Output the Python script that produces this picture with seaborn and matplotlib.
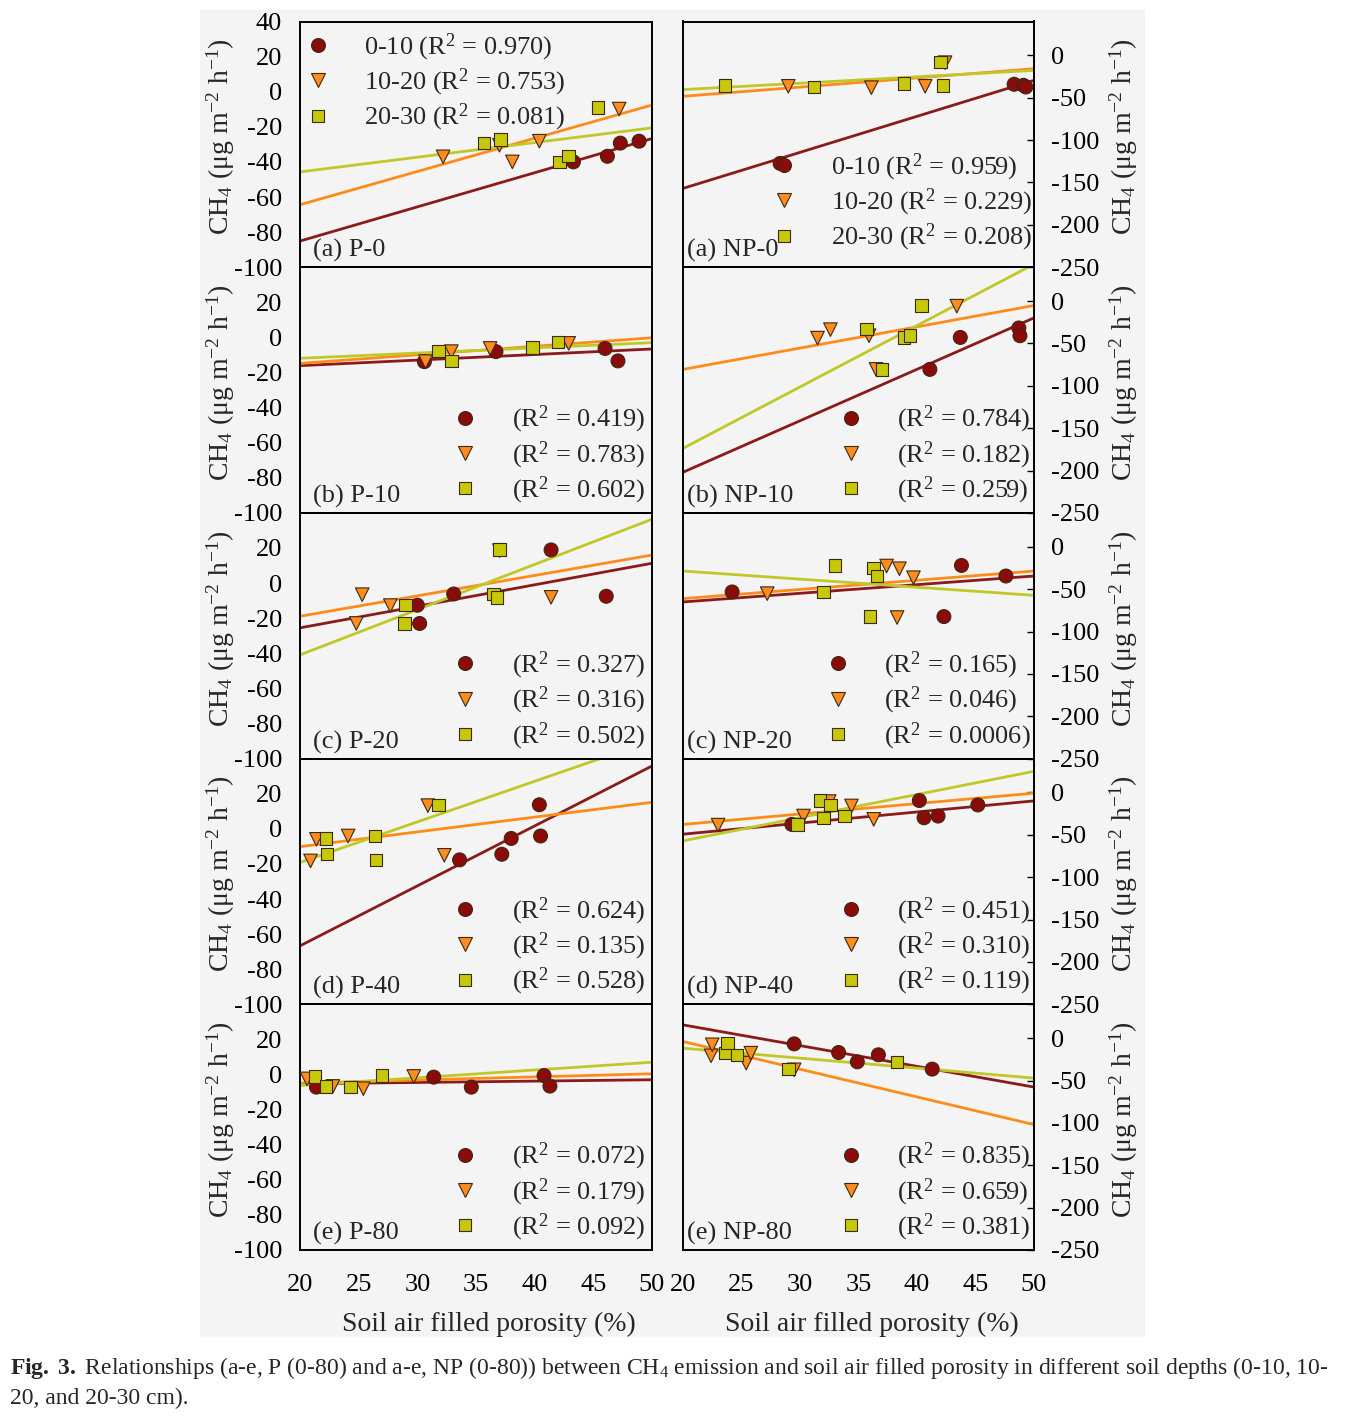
import pandas as pd
import matplotlib
matplotlib.use('Agg')
import matplotlib.pyplot as plt
from matplotlib.lines import Line2D
from matplotlib.patches import Rectangle
import seaborn as sns

# Depth classes and fitted-line x range
depths = ['0-10', '10-20', '20-30']
fit_x = [20, 50]

# ---- P panels (left column) ----
P0_X = [[43.3, 46.2, 47.3, 48.9], [32.2, 37.0, 38.1, 40.4, 47.2], [35.7, 37.1, 42.1, 42.9, 45.4]]
P0_Y = [[-40.0, -36.8, -29.3, -28.2], [-37.1, -30.5, -40.0, -28.2, -9.9], [-29.1, -27.2, -40.0, -36.6, -9.0]]
P0_FIT = [(-85.1, -26.7), (-64.4, -7.6), (-45.7, -20.6)]
P0_R2 = ['0.970', '0.753', '0.081']

P10_X = [[30.6, 36.7, 46.0, 47.1], [30.7, 32.9, 36.2, 42.9], [31.8, 32.9, 39.8, 42.0]]
P10_Y = [[-13.8, -8.1, -6.3, -13.4], [-13.8, -8.1, -6.3, -3.4], [-7.8, -13.4, -5.7, -2.7]]
P10_FIT = [(-16.1, -6.6), (-14.8, -0.2), (-11.9, -3.0)]
P10_R2 = ['0.419', '0.783', '0.602']

P20_X = [[30.0, 30.2, 33.1, 41.4, 46.1], [24.8, 25.3, 27.7, 37.0, 41.4], [28.9, 29.0, 36.5, 36.8, 37.0]]
P20_Y = [[-12.6, -23.0, -6.2, 18.9, -7.5], [-23.0, -6.6, -12.8, 18.5, -8.1], [-23.0, -12.6, -6.2, -8.1, 19.2]]
P20_FIT = [(-25.5, 11.3), (-18.9, 16.0), (-40.9, 36.4)]
P20_R2 = ['0.327', '0.316', '0.502']

P40_X = [[33.6, 37.2, 38.0, 40.4, 40.5], [20.9, 21.4, 24.1, 30.9, 32.3], [22.2, 22.3, 26.4, 26.5, 31.8]]
P40_Y = [[-17.7, -14.5, -5.5, 13.7, -4.1], [-18.3, -6.0, -4.1, 13.2, -15.1], [-5.5, -14.5, -4.1, -17.7, 13.7]]
P40_FIT = [(-66.7, 35.8), (-10.2, 15.1), (-19.2, 50.2)]
P40_R2 = ['0.624', '0.135', '0.528']

P80_X = [[21.4, 31.4, 34.6, 40.8, 41.3], [20.6, 22.8, 25.4, 29.7], [21.3, 22.2, 24.3, 27.0]]
P80_Y = [[-7.2, -1.5, -7.2, -0.6, -6.6], [-2.5, -6.8, -8.1, -1.1], [-1.1, -6.8, -7.2, -0.6]]
P80_FIT = [(-5.3, -3.0), (-4.9, 0.4), (-6.3, 7.0)]
P80_R2 = ['0.072', '0.179', '0.092']

# ---- NP panels (right column) ----
NP0_X = [[28.3, 48.3, 49.1, 49.3], [29.0, 36.1, 40.7, 42.4], [23.6, 31.2, 38.9, 42.0, 42.2]]
NP0_Y = [[-127.5, -34.1, -35.3, -37.3], [-36.5, -38.1, -36.5, -8.6], [-35.3, -37.3, -33.4, -7.8, -35.3]]
NP0_FIT = [(-157.0, -29.4), (-48.3, -15.7), (-40.4, -17.7)]
NP0_R2 = ['0.959', '0.229', '0.208']

NP10_X = [[41.1, 43.7, 48.7, 48.8], [31.5, 32.6, 35.9, 36.5, 43.4], [35.7, 37.0, 38.9, 39.4, 40.4]]
NP10_Y = [[-80.6, -42.9, -31.7, -40.9], [-43.7, -33.7, -40.9, -80.6, -6.0], [-32.9, -80.6, -42.9, -40.5, -5.2]]
NP10_FIT = [(-202.0, -19.8), (-80.6, -5.2), (-173.8, 43.6)]
NP10_R2 = ['0.784', '0.182', '0.259']

NP20_X = [[24.2, 42.3, 43.8, 47.6], [27.2, 37.4, 38.3, 38.5, 39.7], [32.0, 33.0, 36.0, 36.3, 36.6]]
NP20_Y = [[-53.3, -82.4, -22.0, -34.5], [-55.3, -22.7, -83.5, -25.9, -36.5], [-53.3, -22.0, -82.4, -24.7, -34.5]]
NP20_FIT = [(-65.1, -34.5), (-61.2, -28.6), (-28.6, -57.3)]
NP20_R2 = ['0.165', '0.046', '0.0006']

NP40_X = [[29.3, 40.2, 40.6, 41.8, 45.2], [23.0, 30.3, 32.5, 34.4, 36.3], [29.8, 31.7, 32.0, 32.6, 33.8]]
NP40_Y = [[-37.7, -9.5, -29.8, -27.8, -14.7], [-38.5, -27.8, -10.7, -15.9, -31.7], [-37.7, -9.5, -29.8, -14.7, -27.8]]
NP40_FIT = [(-49.2, -9.9), (-37.7, -0.8), (-57.1, 25.0)]
NP40_R2 = ['0.451', '0.310', '0.119']

NP80_X = [[29.5, 33.3, 34.9, 36.7, 41.3], [22.4, 22.5, 25.4, 25.8, 29.5], [23.6, 23.8, 24.6, 29.0, 38.3]]
NP80_Y = [[-6.7, -16.9, -27.9, -19.6, -36.5], [-20.8, -7.8, -29.4, -17.7, -37.3], [-17.7, -5.9, -19.6, -36.5, -28.3]]
NP80_FIT = [(15.7, -57.7), (-3.9, -102.0), (-11.8, -47.1)]
NP80_R2 = ['0.835', '0.659', '0.381']

panel_names_p = ['(a) P-0', '(b) P-10', '(c) P-20', '(d) P-40', '(e) P-80']
panel_names_np = ['(a) NP-0', '(b) NP-10', '(c) NP-20', '(d) NP-40', '(e) NP-80']

# Styling
sns.set_theme(style='white')
plt.rcParams['font.family'] = ['Liberation Serif', 'DejaVu Serif']
plt.rcParams['mathtext.fontset'] = 'custom'
plt.rcParams['mathtext.rm'] = 'Liberation Serif'
plt.rcParams['mathtext.it'] = 'Liberation Serif:italic'
plt.rcParams['mathtext.bf'] = 'Liberation Serif:bold'
plt.rcParams['axes.unicode_minus'] = False

fill_colors = {'0-10': '#8b0a0a', '10-20': '#ff8c1e', '20-30': '#c8c80a'}
line_colors = {'0-10': '#8b1a1a', '10-20': '#ff8c1a', '20-30': '#c0c828'}
marker_map = {'0-10': 'o', '10-20': 'v', '20-30': 's'}
size_map = {'0-10': 100, '10-20': 95, '20-30': 80}
edge_col = '#3a2a10'
FS = 19


def make_frames(xs, ys, fits):
    pts = pd.concat([pd.DataFrame({'x': xs[i], 'y': ys[i], 'depth': d}) for i, d in enumerate(depths)],
                    ignore_index=True)
    lines = pd.concat([pd.DataFrame({'x': fit_x, 'y': list(fits[i]), 'depth': d}) for i, d in enumerate(depths)],
                      ignore_index=True)
    return pts, lines


def draw_panel(ax, xs, ys, fits):
    pts, lines = make_frames(xs, ys, fits)
    sns.lineplot(data=lines, x='x', y='y', hue='depth', palette=line_colors, legend=False,
                 ax=ax, linewidth=2, zorder=2)
    sns.scatterplot(data=pts, x='x', y='y', hue='depth', style='depth', size='depth',
                    palette=fill_colors, markers=marker_map, sizes=size_map,
                    edgecolor=edge_col, linewidth=0.8, legend=False, ax=ax, zorder=3)


def add_legend(ax, labels, loc, anchor):
    handles = [Line2D([], [], linestyle='none', marker=marker_map[d], markersize=10 if d != '20-30' else 9,
                      markerfacecolor=fill_colors[d], markeredgecolor=edge_col, markeredgewidth=0.8)
               for d in depths]
    ax.legend(handles, labels, loc=loc, bbox_to_anchor=anchor, frameon=False, fontsize=FS,
              handlelength=1.0, handletextpad=1.25, labelspacing=0.15, borderpad=0, borderaxespad=0)


fig = plt.figure(figsize=(13.49, 14.17), dpi=100)
fig.patches.append(Rectangle((200 / 1349, 1 - 1337 / 1417), 945 / 1349, 1327 / 1417,
                             transform=fig.transFigure, facecolor='#f4f4f4', edgecolor='none', zorder=-10))

W, H = 1349, 1417
top0, ph = 21.5, 245.7
left_data = [(P0_X, P0_Y, P0_FIT, P0_R2), (P10_X, P10_Y, P10_FIT, P10_R2), (P20_X, P20_Y, P20_FIT, P20_R2),
             (P40_X, P40_Y, P40_FIT, P40_R2), (P80_X, P80_Y, P80_FIT, P80_R2)]
right_data = [(NP0_X, NP0_Y, NP0_FIT, NP0_R2), (NP10_X, NP10_Y, NP10_FIT, NP10_R2),
              (NP20_X, NP20_Y, NP20_FIT, NP20_R2), (NP40_X, NP40_Y, NP40_FIT, NP40_R2),
              (NP80_X, NP80_Y, NP80_FIT, NP80_R2)]

ylab = r'CH$_4$ (μg m$^{-2}$ h$^{-1}$)'
xlab = 'Soil air filled porosity (%)'

for i in range(5):
    bottom = 1 - (top0 + (i + 1) * ph) / H
    axl = fig.add_axes([300 / W, bottom, 352 / W, ph / H])
    axr = fig.add_axes([683 / W, bottom, 351 / W, ph / H])

    for ax, data, name, col in [(axl, left_data[i], panel_names_p[i], 'l'), (axr, right_data[i], panel_names_np[i], 'r')]:
        xs, ys, fits, r2 = data
        ax.set_facecolor('none')
        draw_panel(ax, xs, ys, fits)
        ax.set_xlim(20, 50)
        for sp in ax.spines.values():
            sp.set_color('black')
            sp.set_linewidth(1.4)
        ax.set_xlabel('')
        ax.set_ylabel('')
        if i == 4:
            ax.set_xticks(range(20, 51, 5))
            ax.tick_params(axis='x', direction='in', length=5, width=1, labelsize=FS, pad=17, colors='black')
            ax.set_xlabel(xlab, fontsize=20)
            ax.xaxis.set_label_coords(0.537, -0.25)
        else:
            ax.set_xticks([])

        if col == 'l':
            ax.set_ylim(-100, 40)
            ax.set_yticks(range(-100, 41, 20) if i == 0 else range(-100, 21, 20))
            ax.tick_params(axis='y', direction='in', length=5, width=1, labelsize=FS, pad=13, colors='black')
            ax.set_ylabel(ylab, fontsize=20)
            ax.yaxis.set_label_coords(-0.179, 0.53)
            ax.text(0.037, 0.02, name, transform=ax.transAxes, fontsize=FS, ha='left', va='bottom')
        else:
            ax.set_ylim(-250, 40)
            ax.set_yticks(range(-250, 1, 50))
            ax.yaxis.tick_right()
            ax.yaxis.set_label_position('right')
            ax.tick_params(axis='y', direction='in', length=5, width=1, labelsize=FS, pad=12, colors='black')
            ax.set_ylabel(ylab, fontsize=20)
            ax.yaxis.set_label_coords(1.208, 0.53)
            ax.text(0.01, 0.02, name, transform=ax.transAxes, fontsize=FS, ha='left', va='bottom')

        if i == 0 and col == 'l':
            labels = [f'{d} (R$^2$ = {r})' for d, r in zip(depths, r2)]
            add_legend(ax, labels, 'center left', (0.0136, 0.752))
        elif i == 0:
            labels = [f'{d} (R$^2$ = {r})' for d, r in zip(depths, r2)]
            add_legend(ax, labels, 'center right', (0.995, 0.264))
        else:
            labels = [f'(R$^2$ = {r})' for r in r2]
            add_legend(ax, labels, 'center right', (0.98 if col == 'l' else 0.99, 0.236))

cap1 = (r'$\mathbf{Fig.\ 3.}$ Relationships (a-e, P (0-80) and a-e, NP (0-80)) between CH$_4$ emission '
        r'and soil air filled porosity in different soil depths (0-10, 10-')
cap2 = '20, and 20-30 cm).'
fig.text(10 / W, 1 - 1368 / H, cap1, fontsize=17, ha='left', va='center')
fig.text(10 / W, 1 - 1398 / H, cap2, fontsize=17, ha='left', va='center')

fig.savefig('out.png', dpi=100)
